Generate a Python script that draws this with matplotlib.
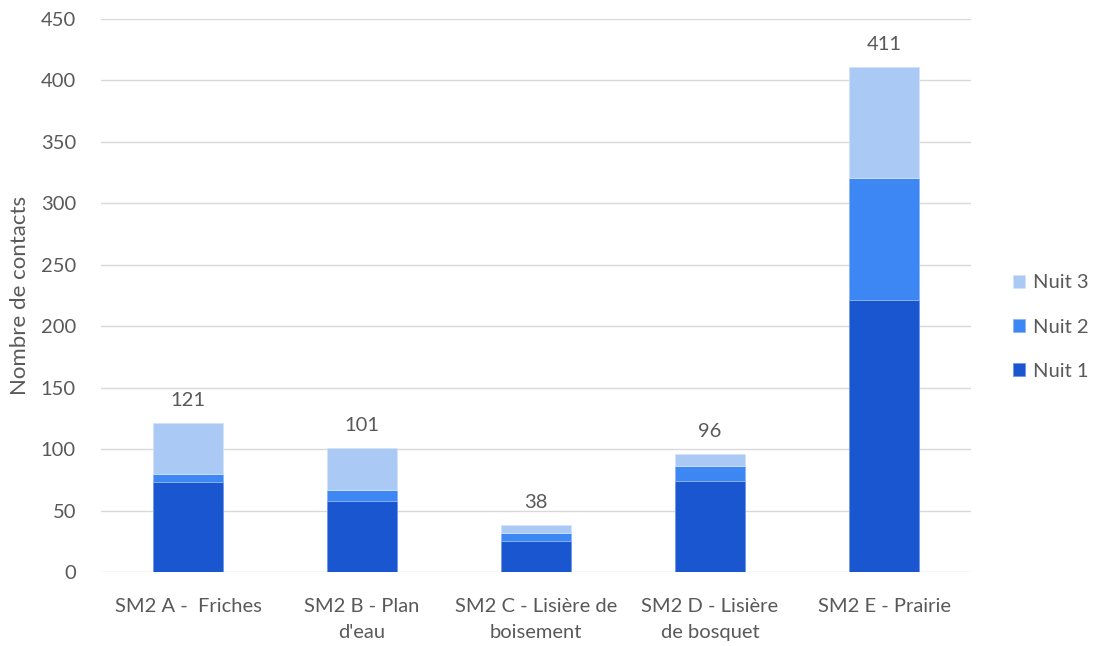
import numpy as np
import matplotlib
matplotlib.use("Agg")
import matplotlib.pyplot as plt

# contacts per recording point, split by night
sites = ["SM2 A -  Friches", "SM2 B - Plan\nd'eau", "SM2 C - Lisière de\nboisement",
         "SM2 D - Lisière\nde bosquet", "SM2 E - Prairie"]
nuit1 = [73, 58, 25, 74, 221]
nuit2 = [7, 9, 7, 12, 100]
nuit3 = [41, 34, 6, 10, 90]
totals = [121, 101, 38, 96, 411]
yticks = [0, 50, 100, 150, 200, 250, 300, 350, 400, 450]

C1, C2, C3 = "#1a56d0", "#3d87f5", "#abc9f5"
TXT = "#595959"
FS = 14.5

plt.rcParams["font.family"] = ["Lato", "DejaVu Sans"]

fig = plt.figure(figsize=(10.94, 6.46), dpi=100)
ax = fig.add_axes([0.0923, 0.1146, 0.7953, 0.856])

x = np.arange(len(sites))
w = 0.4
b1 = np.array(nuit1)
b2 = b1 + np.array(nuit2)
ax.bar(x, nuit1, w, color=C1, edgecolor="#6f98e8", linewidth=0.6, label="Nuit 1", zorder=3)
ax.bar(x, nuit2, w, bottom=b1, color=C2, edgecolor="#8fb6f7", linewidth=0.6, label="Nuit 2", zorder=3)
ax.bar(x, nuit3, w, bottom=b2, color=C3, edgecolor="#d3e2fa", linewidth=0.6, label="Nuit 3", zorder=3)

for xi, t in zip(x, totals):
    ax.annotate(str(t), (xi, t), xytext=(0, 10), textcoords="offset points",
                ha="center", va="bottom", fontsize=FS, color=TXT)

ax.set_xlim(-0.5, len(sites) - 0.5)
ax.set_ylim(0, 450)
ax.set_yticks(yticks)
ax.set_xticks(x)
ax.set_xticklabels(sites, fontsize=FS, color=TXT, linespacing=1.6)
ax.tick_params(axis="y", labelsize=FS, labelcolor=TXT, length=0, pad=18)
ax.tick_params(axis="x", length=0, pad=19)
ax.yaxis.grid(True, color="#d9d9d9", linewidth=1.0, zorder=0)
ax.set_axisbelow(True)
for s in ax.spines.values():
    s.set_visible(False)

ax.set_ylabel("Nombre de contacts", fontsize=16, color=TXT, labelpad=8)

handles, labels = ax.get_legend_handles_labels()
ax.legend(handles[::-1], labels[::-1], loc="center left", bbox_to_anchor=(1.027, 0.443),
          frameon=False, fontsize=FS, labelcolor=TXT, handlelength=0.6, handleheight=0.6,
          handletextpad=0.4, labelspacing=1.35)

fig.savefig("out.png", dpi=100)
